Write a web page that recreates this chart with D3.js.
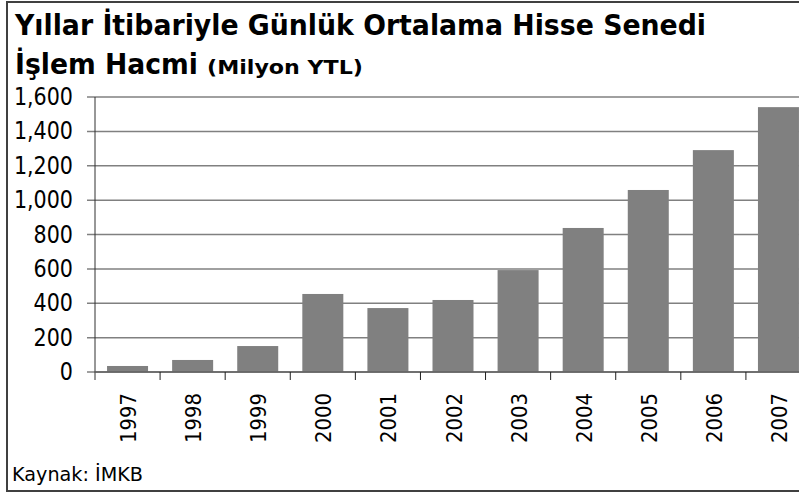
<!DOCTYPE html>
<html>
<head>
<meta charset="utf-8">
<script src="https://cdn.jsdelivr.net/npm/d3@7"></script>
<style>
  html, body { margin: 0; padding: 0; background: #fff; overflow: hidden; }
  svg { display: block; font-family: "DejaVu Sans", Verdana, sans-serif; }
</style>
</head>
<body>
<svg id="chart" width="799" height="492"></svg>
<script>
const years = ["1997","1998","1999","2000","2001","2002","2003","2004","2005","2006","2007"];
const volumes = [35, 70, 151, 454, 372, 419, 593, 838, 1059, 1291, 1541];
const yTicks = [0, 200, 400, 600, 800, 1000, 1200, 1400, 1600];
const titleLine1 = "Yıllar İtibariyle Günlük Ortalama Hisse Senedi";
const titleLine2a = "İşlem Hacmi";
const titleLine2b = "(Milyon YTL)";
const source = "Kaynak: İMKB";

const svg = d3.select("#chart");

function condense(sel, f) {
  sel.each(function () {
    const w = this.getComputedTextLength();
    d3.select(this).attr("textLength", w * f).attr("lengthAdjust", "spacingAndGlyphs");
  });
}
function fitTo(sel, w) {
  sel.attr("textLength", w).attr("lengthAdjust", "spacingAndGlyphs");
}

// outer frame
svg.append("rect")
  .attr("x", 7).attr("y", 2).attr("width", 810).attr("height", 489)
  .attr("fill", "#fff").attr("stroke", "#404040").attr("stroke-width", 2);

const x = d3.scaleBand().domain(years).range([95, 811]).paddingInner(0.37).paddingOuter(0.185);
const y = d3.scaleLinear().domain([0, 1600]).range([372, 97]);

// gridlines
svg.selectAll("line.grid").data(yTicks).join("line")
  .attr("class", "grid")
  .attr("x1", 87).attr("x2", 811)
  .attr("y1", d => y(d)).attr("y2", d => y(d))
  .attr("stroke", "#808080").attr("stroke-width", 1.5);

// bars
svg.selectAll("rect.bar").data(volumes).join("rect")
  .attr("class", "bar")
  .attr("x", (d, i) => x(years[i]))
  .attr("y", d => y(d))
  .attr("width", x.bandwidth())
  .attr("height", d => y(0) - y(d))
  .attr("fill", "#808080");

// y axis line
svg.append("line")
  .attr("x1", 95).attr("x2", 95).attr("y1", 97).attr("y2", 380)
  .attr("stroke", "#303030").attr("stroke-width", 1);
// x axis line
svg.append("line")
  .attr("x1", 95).attr("x2", 811).attr("y1", y(0)).attr("y2", y(0))
  .attr("stroke", "#606060").attr("stroke-width", 1.5);
// x tick marks at band boundaries
svg.selectAll("line.xtick").data(years.slice(1)).join("line")
  .attr("class", "xtick")
  .attr("x1", d => x(d) - x.step() * x.paddingInner() / 2)
  .attr("x2", d => x(d) - x.step() * x.paddingInner() / 2)
  .attr("y1", y(0)).attr("y2", 380)
  .attr("stroke", "#202020").attr("stroke-width", 1);

// y tick labels
const yl = svg.selectAll("text.ylab").data(yTicks).join("text")
  .attr("class", "ylab")
  .attr("x", 73).attr("y", d => y(d))
  .attr("text-anchor", "end").attr("dominant-baseline", "central")
  .attr("font-size", 24).attr("fill", "#000")
  .text(d => d3.format(",")(d));
condense(yl, 0.86);

// x labels
const xl = svg.selectAll("text.xlab").data(years).join("text")
  .attr("class", "xlab")
  .attr("transform", d => `translate(${x(d) + x.bandwidth() / 2 + 1},393) rotate(-90)`)
  .attr("text-anchor", "end").attr("dominant-baseline", "central")
  .attr("font-size", 22).attr("fill", "#000")
  .text(d => d);
fitTo(xl, 50);

// title
svg.append("text").attr("x", 15).attr("y", 35)
  .attr("font-size", 28).attr("font-weight", "bold").attr("fill", "#000")
  .text(titleLine1).call(fitTo, 691);
svg.append("text").attr("x", 15).attr("y", 74)
  .attr("font-size", 28).attr("font-weight", "bold").attr("fill", "#000")
  .text(titleLine2a).call(fitTo, 183);
svg.append("text").attr("x", 207).attr("y", 74)
  .attr("font-size", 20).attr("font-weight", "bold").attr("fill", "#000")
  .text(titleLine2b).call(fitTo, 156);

// source
svg.append("text").attr("x", 12).attr("y", 481)
  .attr("font-size", 20).attr("fill", "#000")
  .text(source).call(fitTo, 131);
</script>
</body>
</html>
